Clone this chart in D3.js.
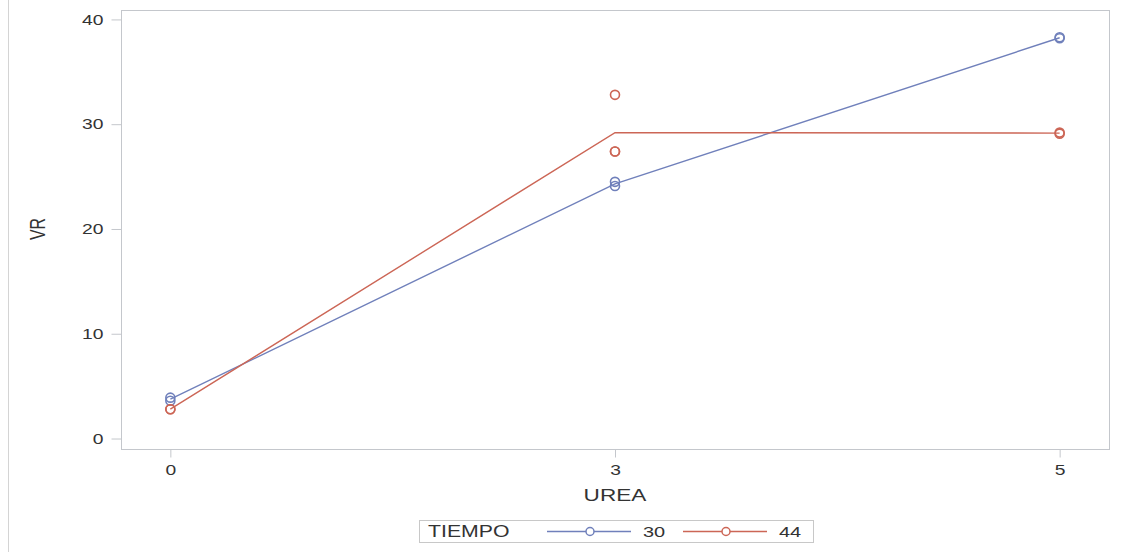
<!DOCTYPE html>
<html>
<head>
<meta charset="utf-8">
<script src="https://cdn.jsdelivr.net/npm/d3@7"></script>
<style>
  body { margin: 0; background: #fff; }
  text { font-family: "Liberation Sans", Arial, sans-serif; fill: #333; }
</style>
</head>
<body>
<div id="chart"></div>
<script>
// UREA levels on the x axis
var ureaLevels = ["0", "3", "5"];
var yTicks = [0, 10, 20, 30, 40];

// VR observations, TIEMPO = 30
var vr30 = [
  {urea: "0", vr: 3.9}, {urea: "0", vr: 3.6},
  {urea: "3", vr: 24.5}, {urea: "3", vr: 24.1},
  {urea: "5", vr: 38.2}, {urea: "5", vr: 38.3}
];
// VR observations, TIEMPO = 44
var vr44 = [
  {urea: "0", vr: 2.8}, {urea: "0", vr: 2.8},
  {urea: "3", vr: 32.8}, {urea: "3", vr: 27.4}, {urea: "3", vr: 27.4},
  {urea: "5", vr: 29.1}, {urea: "5", vr: 29.2}
];
var series = [
  {name: "30", color: "#7080bb", points: vr30},
  {name: "44", color: "#cc6656", points: vr44}
];

var W = 1121, H = 552;
var frame = {left: 121, top: 10, right: 1109, bottom: 449};
var gray = "#c4c7cc";
var K = 1.33; // the original text is drawn wide

// move x/y into a transform so the glyphs can be stretched sideways
function stretch(sel) {
    sel.each(function () {
        var t = d3.select(this);
        var tx = +t.attr("x") || 0, ty = +t.attr("y") || 0;
        t.attr("x", 0).attr("y", 0)
            .attr("transform", "translate(" + tx + "," + ty + ") scale(" + K + ",1)");
    });
}

var svg = d3.select("#chart").append("svg")
    .attr("width", W)
    .attr("height", H);

// thin border line at the far left
svg.append("line")
    .attr("x1", 8.5).attr("x2", 8.5)
    .attr("y1", 0).attr("y2", H)
    .attr("stroke", "#d4d4d4");

var x = d3.scalePoint()
    .domain(ureaLevels)
    .range([frame.left, frame.right])
    .padding(0.111);

var y = d3.scaleLinear()
    .domain([-1, 40.9])
    .range([frame.bottom, frame.top]);

// frame
svg.append("rect")
    .attr("x", frame.left + 0.5)
    .attr("y", frame.top + 0.5)
    .attr("width", frame.right - frame.left)
    .attr("height", frame.bottom - frame.top)
    .attr("fill", "none")
    .attr("stroke", gray);

// axes
var yAxis = svg.append("g")
    .attr("transform", "translate(" + (frame.left + 0.5) + ",0)")
    .call(d3.axisLeft(y).tickValues(yTicks).tickSize(10).tickPadding(8));

var xAxis = svg.append("g")
    .attr("transform", "translate(0," + (frame.bottom + 0.5) + ")")
    .call(d3.axisBottom(x).tickSize(8).tickPadding(7));

[xAxis, yAxis].forEach(function (g) {
    g.select(".domain").remove();
    g.selectAll(".tick line").attr("stroke", gray);
    g.selectAll(".tick text")
        .style("font-size", "14.5px")
        .style("font-family", "Liberation Sans, Arial, sans-serif")
        .attr("fill", "#333")
        .call(stretch);
});

// axis labels
svg.append("text")
    .attr("transform", "translate(45,229) scale(" + K + ",1) rotate(-90)")
    .attr("text-anchor", "middle")
    .style("font-size", "16px")
    .text("VR");

svg.append("text")
    .attr("x", 615)
    .attr("y", 501)
    .attr("text-anchor", "middle")
    .style("font-size", "17px")
    .text("UREA")
    .call(stretch);

// mean lines and markers
var line = d3.line()
    .x(function (d) { return x(d[0]); })
    .y(function (d) { return y(d[1]); });

series.forEach(function (s) {
    var means = ureaLevels.map(function (u) {
        return [u, d3.mean(s.points.filter(function (p) { return p.urea === u; }), function (p) { return p.vr; })];
    });

    svg.append("path")
        .datum(means)
        .attr("d", line)
        .attr("fill", "none")
        .attr("stroke", s.color)
        .attr("stroke-width", 1.4);

    svg.selectAll(null)
        .data(s.points)
        .enter().append("circle")
        .attr("cx", function (d) { return x(d.urea); })
        .attr("cy", function (d) { return y(d.vr); })
        .attr("r", 4.5)
        .attr("fill", "none")
        .attr("stroke", s.color)
        .attr("stroke-width", 1.6);
});

// legend
var legend = svg.append("g");
legend.append("rect")
    .attr("x", 419.5).attr("y", 520.5)
    .attr("width", 394).attr("height", 22)
    .attr("fill", "#fff")
    .attr("stroke", "#c8c8c8");

legend.append("text")
    .attr("x", 428).attr("y", 537)
    .style("font-size", "16px")
    .text("TIEMPO")
    .call(stretch);

var items = legend.selectAll(".item")
    .data(series)
    .enter().append("g")
    .attr("class", "item")
    .attr("transform", function (d, i) { return "translate(" + (547 + i * 136) + ",0)"; });

items.append("line")
    .attr("x1", 0).attr("x2", 84)
    .attr("y1", 531.5).attr("y2", 531.5)
    .attr("stroke", function (d) { return d.color; })
    .attr("stroke-width", 1.4);

items.append("circle")
    .attr("cx", 43).attr("cy", 531.5).attr("r", 4)
    .attr("fill", "#fff")
    .attr("stroke", function (d) { return d.color; })
    .attr("stroke-width", 1.5);

items.append("text")
    .attr("x", 96).attr("y", 537)
    .style("font-size", "15px")
    .text(function (d) { return d.name; })
    .call(stretch);
</script>
</body>
</html>
